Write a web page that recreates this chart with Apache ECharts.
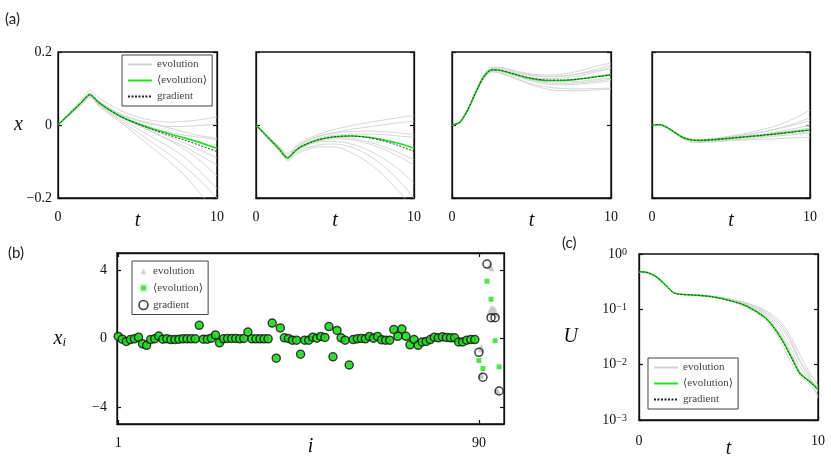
<!DOCTYPE html>
<html>
<head>
<meta charset="UTF-8">
<title>evolution vs gradient</title>
<script src="https://cdn.jsdelivr.net/npm/echarts@6.0.0/dist/echarts.min.js"></script>
<style>body{margin:0;background:#fff}</style>
</head>
<body>
<div id="fig" style="width:831px;height:460px;"></div>
<script>
// ---- (a) x(t) for four components ----
var tA = [0, 0.5, 1, 1.5, 2, 2.5, 3, 4, 5, 6, 7, 8, 9, 10];

var a1Mean = [0, 0.021, 0.042, 0.063, 0.083, 0.064, 0.048, 0.022, 0.004, -0.011, -0.024, -0.036, -0.049, -0.064];
var a1Grad = [0, 0.021, 0.042, 0.063, 0.083, 0.064, 0.048, 0.022, 0.003, -0.013, -0.028, -0.042, -0.057, -0.073];
var a1Evo = [
  [0, 0.023, 0.047, 0.071, 0.095, 0.077, 0.062, 0.038, 0.022, 0.012, 0.008, 0.010, 0.015, 0.022],
  [0, 0.022, 0.044, 0.066, 0.088, 0.069, 0.053, 0.028, 0.012, 0.002, -0.004, -0.004, -0.001, 0.003],
  [0, 0.021, 0.042, 0.063, 0.085, 0.066, 0.050, 0.025, 0.006, -0.009, -0.020, -0.028, -0.034, -0.040],
  [0, 0.020, 0.040, 0.060, 0.080, 0.061, 0.045, 0.020, 0.000, -0.020, -0.040, -0.060, -0.085, -0.110],
  [0, 0.020, 0.039, 0.058, 0.078, 0.058, 0.040, 0.010, -0.020, -0.050, -0.080, -0.115, -0.155, -0.200],
  [0, 0.020, 0.039, 0.059, 0.079, 0.060, 0.043, 0.015, -0.010, -0.035, -0.060, -0.090, -0.130, -0.175],
  [0, 0.019, 0.037, 0.056, 0.075, 0.055, 0.037, 0.005, -0.030, -0.065, -0.100, -0.140, -0.190, -0.240],
  [0, 0.021, 0.043, 0.064, 0.086, 0.067, 0.052, 0.029, 0.014, 0.003, -0.008, -0.020, -0.030, -0.036],
  [0, 0.020, 0.041, 0.061, 0.082, 0.063, 0.047, 0.022, 0.000, -0.020, -0.042, -0.068, -0.100, -0.140],
  [0, 0.021, 0.042, 0.062, 0.083, 0.064, 0.048, 0.022, 0.002, -0.015, -0.032, -0.050, -0.070, -0.090]
];

var a2Mean = [0, -0.0225, -0.045, -0.0675, -0.090, -0.070, -0.056, -0.040, -0.032, -0.030, -0.033, -0.040, -0.050, -0.063];
var a2Grad = [0, -0.0225, -0.045, -0.0675, -0.090, -0.070, -0.056, -0.040, -0.032, -0.030, -0.034, -0.043, -0.056, -0.072];
var a2Evo = [
  [0, -0.020, -0.040, -0.059, -0.078, -0.058, -0.043, -0.025, -0.012, -0.002, 0.006, 0.013, 0.020, 0.026],
  [0, -0.021, -0.041, -0.062, -0.082, -0.062, -0.048, -0.030, -0.020, -0.012, -0.006, 0.000, 0.006, 0.010],
  [0, -0.022, -0.044, -0.066, -0.088, -0.068, -0.054, -0.036, -0.028, -0.025, -0.025, -0.026, -0.030, -0.034],
  [0, -0.023, -0.046, -0.069, -0.092, -0.074, -0.060, -0.044, -0.038, -0.040, -0.050, -0.065, -0.085, -0.110],
  [0, -0.024, -0.048, -0.071, -0.095, -0.078, -0.066, -0.054, -0.052, -0.060, -0.080, -0.110, -0.150, -0.200],
  [0, -0.0245, -0.049, -0.073, -0.098, -0.082, -0.071, -0.060, -0.060, -0.075, -0.100, -0.135, -0.180, -0.230],
  [0, -0.022, -0.044, -0.066, -0.088, -0.069, -0.055, -0.039, -0.034, -0.036, -0.045, -0.058, -0.075, -0.095],
  [0, -0.023, -0.045, -0.068, -0.090, -0.072, -0.059, -0.046, -0.045, -0.052, -0.067, -0.090, -0.120, -0.160],
  [0, -0.021, -0.043, -0.064, -0.085, -0.065, -0.050, -0.031, -0.022, -0.018, -0.017, -0.018, -0.022, -0.026]
];

var a3Mean = [0, 0.008, 0.042, 0.090, 0.132, 0.151, 0.150, 0.138, 0.127, 0.122, 0.122, 0.126, 0.132, 0.138];
var a3Grad = [0, 0.008, 0.042, 0.090, 0.132, 0.151, 0.150, 0.139, 0.128, 0.123, 0.123, 0.126, 0.131, 0.137];
var a3Evo = [
  [0, 0.009, 0.045, 0.095, 0.138, 0.158, 0.158, 0.148, 0.140, 0.137, 0.140, 0.148, 0.160, 0.170],
  [0, 0.008, 0.043, 0.092, 0.135, 0.155, 0.154, 0.143, 0.135, 0.132, 0.134, 0.140, 0.148, 0.158],
  [0, 0.008, 0.042, 0.090, 0.132, 0.151, 0.149, 0.136, 0.125, 0.119, 0.118, 0.120, 0.124, 0.128],
  [0, 0.007, 0.040, 0.087, 0.128, 0.146, 0.143, 0.128, 0.113, 0.104, 0.100, 0.099, 0.100, 0.101],
  [0, 0.007, 0.039, 0.086, 0.127, 0.145, 0.142, 0.127, 0.110, 0.098, 0.094, 0.094, 0.096, 0.098],
  [0, 0.008, 0.041, 0.089, 0.131, 0.150, 0.149, 0.138, 0.130, 0.127, 0.129, 0.135, 0.145, 0.155],
  [0, 0.008, 0.042, 0.090, 0.133, 0.152, 0.150, 0.137, 0.123, 0.116, 0.114, 0.116, 0.120, 0.125],
  [0, 0.0085, 0.044, 0.093, 0.136, 0.156, 0.156, 0.146, 0.137, 0.133, 0.135, 0.141, 0.152, 0.165],
  [0, 0.0075, 0.041, 0.088, 0.130, 0.148, 0.146, 0.133, 0.120, 0.112, 0.110, 0.112, 0.116, 0.120]
];

var a4Mean = [0, 0.001, -0.008, -0.022, -0.035, -0.041, -0.042, -0.040, -0.036, -0.032, -0.028, -0.023, -0.018, -0.013];
var a4Grad = [0, 0.001, -0.008, -0.022, -0.035, -0.041, -0.042, -0.040, -0.036, -0.032, -0.028, -0.024, -0.019, -0.014];
var a4Evo = [
  [0, 0.001, -0.007, -0.020, -0.033, -0.039, -0.040, -0.036, -0.030, -0.022, -0.012, 0.000, 0.018, 0.040],
  [0, 0.001, -0.007, -0.021, -0.034, -0.040, -0.041, -0.038, -0.033, -0.027, -0.019, -0.009, 0.004, 0.020],
  [0, 0.001, -0.008, -0.022, -0.035, -0.041, -0.042, -0.039, -0.035, -0.030, -0.025, -0.018, -0.010, 0.000],
  [0, 0.000, -0.009, -0.024, -0.038, -0.045, -0.046, -0.044, -0.041, -0.038, -0.034, -0.030, -0.026, -0.022],
  [0, 0.000, -0.009, -0.025, -0.040, -0.047, -0.048, -0.046, -0.043, -0.041, -0.039, -0.037, -0.035, -0.033],
  [0, 0.001, -0.008, -0.023, -0.036, -0.042, -0.043, -0.041, -0.037, -0.033, -0.029, -0.024, -0.019, -0.015],
  [0, 0.001, -0.008, -0.021, -0.034, -0.040, -0.041, -0.039, -0.035, -0.031, -0.026, -0.021, -0.015, -0.008],
  [0, 0.000, -0.009, -0.023, -0.037, -0.043, -0.044, -0.042, -0.039, -0.035, -0.031, -0.027, -0.023, -0.019],
  [0, 0.001, -0.007, -0.020, -0.033, -0.039, -0.040, -0.037, -0.032, -0.026, -0.019, -0.010, 0.000, 0.012]
];

// ---- (b) final x_i, i = 1..95 ----
var bRegular = [
  0.12, -0.04, -0.17, -0.06, -0.02, 0.08, -0.31, -0.40, -0.06, -0.02,
  0.14, -0.04, -0.02, -0.06, -0.06, -0.04, -0.02, -0.02, -0.02, -0.02,
  0.77, -0.04, -0.04, 0.02, 0.21, -0.25, -0.02, 0.00, 0.00, 0.00,
  -0.02, 0.00, 0.38, -0.02, -0.02, -0.02, -0.02, -0.02, 0.90, -1.15,
  0.62, 0.04, 0.00, -0.10, -0.10, -0.92, -0.10, -0.10, 0.08, 0.02,
  0.12, 0.06, 0.70, -1.07, 0.47, 0.04, -0.10, -1.55, -0.06, -0.02,
  0.00, -0.02, 0.12, 0.02, 0.12, -0.08, -0.10, -0.10, 0.52, 0.13,
  0.56, 0.13, -0.37, -0.06, -0.40, -0.20, -0.17, -0.06, 0.08, 0.04,
  0.10, 0.06, 0.04, 0.04, -0.20, -0.20, -0.10, -0.06, -0.06
];
var bGradTail = [-0.81, -2.26, 4.35, 1.22, 1.22, -3.07];
var bMeanTail = [-1.29, -1.76, 3.35, 2.30, -0.13, -1.66];
// single evolution runs, as they sit around the last six points
var bEvoPos = [90.6, 90.7, 90.5, 90.4, 90.5, 90.6, 92.7, 92.9, 93.1, 92.6, 92.9, 93.2, 93.5, 93.8, 94.1, 94.4, 94.3, 94.5, 94.6];
var bEvoValue = [-0.5, -0.65, -0.6, -2.15, -2.2, -2.1, 4.3, 4.2, 4.1, 1.5, 1.7, 1.8, 1.6, 1.75, 1.5, 1.4, -3.05, -3.0, -3.1];
var bTicksX = [1, 90];
var bTicksY = [-4, 0, 4];

// ---- (c) U(t) ----
var tC = [0, 0.5, 1, 1.5, 2, 3, 4, 5, 6, 7, 7.5, 8, 8.5, 9, 9.5, 10];
var cMean = [0.48, 0.46, 0.38, 0.27, 0.195, 0.182, 0.17, 0.146, 0.115, 0.073, 0.049, 0.028, 0.014, 0.0069, 0.0051, 0.0036];
var cGrad = [0.48, 0.46, 0.38, 0.27, 0.195, 0.182, 0.17, 0.146, 0.115, 0.072, 0.048, 0.027, 0.0135, 0.0068, 0.005, 0.0036];
var cEvo = [
  [0.48, 0.46, 0.38, 0.27, 0.195, 0.183, 0.173, 0.153, 0.126, 0.088, 0.066, 0.044, 0.024, 0.011, 0.006, 0.0038],
  [0.48, 0.46, 0.38, 0.27, 0.195, 0.183, 0.174, 0.156, 0.131, 0.098, 0.078, 0.055, 0.031, 0.015, 0.0075, 0.0042],
  [0.48, 0.46, 0.38, 0.27, 0.195, 0.182, 0.170, 0.148, 0.118, 0.078, 0.054, 0.032, 0.016, 0.0075, 0.005, 0.0034],
  [0.48, 0.46, 0.38, 0.27, 0.195, 0.182, 0.169, 0.144, 0.110, 0.066, 0.043, 0.023, 0.011, 0.0062, 0.0045, 0.0028],
  [0.48, 0.46, 0.38, 0.27, 0.195, 0.183, 0.172, 0.150, 0.122, 0.083, 0.060, 0.037, 0.019, 0.009, 0.0055, 0.0033],
  [0.48, 0.46, 0.38, 0.27, 0.195, 0.182, 0.171, 0.148, 0.116, 0.075, 0.051, 0.029, 0.015, 0.0072, 0.0052, 0.004],
  [0.48, 0.46, 0.38, 0.27, 0.195, 0.183, 0.173, 0.154, 0.128, 0.093, 0.072, 0.049, 0.027, 0.012, 0.0065, 0.0025]
];

var INK = '#111';
var GRAY = '#d0d0d0';
var GREEN = '#22e022';
var SERIF = '"Liberation Serif","DejaVu Serif",serif';

function minus(v) { return String(v).replace('-', '\u2212'); }
function pairs(ts, vs) { return vs.map(function (v, k) { return [ts[k], v]; }); }

var axisLine = { onZero: false, lineStyle: { color: INK, width: 1.3 } };
var tick = { inside: true, length: 4, lineStyle: { color: INK, width: 1.2 } };
var tickFont = { fontFamily: SERIF, fontSize: 14, color: INK };
var nameFont = { fontFamily: SERIF, fontStyle: 'italic', fontSize: 20, color: INK };
var legendBase = {
  orient: 'vertical', selectedMode: false, backgroundColor: '#fff',
  borderColor: '#444', borderWidth: 1, borderRadius: 0,
  padding: [4, 5, 4, 5], itemGap: 5, itemWidth: 24, itemHeight: 8,
  itemStyle: { opacity: 0 },   // line icons only, no marker on them
  textStyle: { fontFamily: SERIF, fontSize: 11, color: '#444' }
};
function box(left, top, width, height) {
  return { left: left, top: top, width: width, height: height, show: true,
    borderColor: INK, borderWidth: 1.3, outerBoundsMode: 'none', containLabel: false };
}

var grids = [], xAxes = [], yAxes = [], series = [];
var aLeft = [58, 256, 452, 652], aWidth = [159, 158, 159, 158];
var aMeans = [a1Mean, a2Mean, a3Mean, a4Mean];
var aGrads = [a1Grad, a2Grad, a3Grad, a4Grad];
var aEvos = [a1Evo, a2Evo, a3Evo, a4Evo];

function lineSeries(name, xi, yi, data, style, z) {
  return { type: 'line', name: name, xAxisIndex: xi, yAxisIndex: yi, data: data,
    symbol: 'none', smooth: 0.3, lineStyle: style, itemStyle: { color: style.color },
    z: z, silent: true, animation: false };
}

// panel (a)
for (var i = 0; i < 4; i++) {
  grids.push(box(aLeft[i], 52, aWidth[i], 146));
  xAxes.push({ type: 'value', gridIndex: i, min: 0, max: 10, interval: 10,
    name: 't', nameLocation: 'middle', nameGap: 13, nameMoveOverlap: false, nameTextStyle: nameFont,
    axisLine: axisLine, axisTick: tick, splitLine: { show: false },
    axisLabel: Object.assign({ margin: 12 }, tickFont) });
  yAxes.push({ type: 'value', gridIndex: i, min: -0.2, max: 0.2, interval: 0.2,
    name: i === 0 ? 'x' : '', nameLocation: 'middle', nameRotate: 0, nameGap: 35, nameMoveOverlap: false, nameTextStyle: nameFont,
    axisLine: axisLine, axisTick: tick, splitLine: { show: false },
    axisLabel: Object.assign({ show: i === 0, margin: 6, formatter: minus }, tickFont) });
  yAxes.push({ type: 'value', gridIndex: i, position: 'right', min: -0.2, max: 0.2, interval: 0.2,
    axisLine: axisLine, axisTick: tick, splitLine: { show: false }, axisLabel: { show: false } });
  aEvos[i].forEach(function (run) {
    series.push(lineSeries('evolution', i, 2 * i, pairs(tA, run), { color: GRAY, width: 0.9 }, 2));
  });
  series.push(lineSeries('\u27e8evolution\u27e9', i, 2 * i, pairs(tA, aMeans[i]), { color: GREEN, width: 1.6 }, 3));
  series.push(lineSeries('gradient', i, 2 * i, pairs(tA, aGrads[i]), { color: '#222', width: 0.9, type: [2, 1.5] }, 4));
}

// panel (b)
var bIdx = bRegular.concat(bGradTail).map(function (v, k) { return k + 1; });
grids.push(box(117, 253, 387, 171));
xAxes.push({ type: 'value', gridIndex: 4, min: 0.7, max: 96.2,
  name: 'i', nameLocation: 'middle', nameGap: 13, nameMoveOverlap: false, nameTextStyle: nameFont,
  axisLine: axisLine, axisTick: Object.assign({ customValues: bTicksX }, tick), splitLine: { show: false },
  axisLabel: Object.assign({ customValues: bTicksX, margin: 12 }, tickFont) });
xAxes.push({ type: 'value', gridIndex: 4, position: 'top', min: 0.7, max: 96.2,
  axisLine: axisLine, axisTick: Object.assign({ customValues: bTicksX }, tick), splitLine: { show: false },
  axisLabel: { show: false } });
yAxes.push({ type: 'value', gridIndex: 4, min: -5, max: 5,
  name: '{v|x}{s|i}', nameLocation: 'middle', nameRotate: 0, nameGap: 51, nameMoveOverlap: false,
  nameTextStyle: { rich: { v: nameFont, s: { fontFamily: SERIF, fontStyle: 'italic', fontSize: 13, color: INK, verticalAlign: 'bottom', padding: [8, 0, 0, 0] } } },
  axisLine: axisLine, axisTick: Object.assign({ customValues: bTicksY }, tick), splitLine: { show: false },
  axisLabel: Object.assign({ customValues: bTicksY, margin: 10, formatter: minus }, tickFont) });
yAxes.push({ type: 'value', gridIndex: 4, position: 'right', min: -5, max: 5,
  axisLine: axisLine, axisTick: Object.assign({ customValues: bTicksY }, tick), splitLine: { show: false },
  axisLabel: { show: false } });

series.push({ type: 'scatter', name: 'b:evolution', xAxisIndex: 4, yAxisIndex: 8, z: 2,
  data: pairs(bEvoPos, bEvoValue),
  symbol: 'triangle', symbolSize: 6, itemStyle: { color: '#c4c4c4' }, silent: true, animation: false });
series.push({ type: 'scatter', name: 'b:\u27e8evolution\u27e9', xAxisIndex: 4, yAxisIndex: 8, z: 3,
  data: pairs(bIdx, bRegular.concat(bMeanTail)),
  symbol: 'rect', symbolSize: 5, itemStyle: { color: GREEN }, silent: true, animation: false });
series.push({ type: 'scatter', name: 'b:gradient', xAxisIndex: 4, yAxisIndex: 8, z: 4,
  data: pairs(bIdx, bRegular.concat(bGradTail)),
  symbol: 'circle', symbolSize: 8,
  itemStyle: {
    color: function (p) { return p.dataIndex < bRegular.length ? GREEN : 'rgba(255,255,255,0)'; },
    borderColor: INK, borderWidth: 1.5
  }, silent: true, animation: false });

// panel (c)
function decade(v) {
  var e = Math.round(Math.log(v) / Math.LN10);
  return '{b|10}{s|' + minus(e) + '}';
}
var decadeRich = { b: { fontFamily: SERIF, fontSize: 14, color: INK }, s: { fontFamily: SERIF, fontSize: 10, color: INK, verticalAlign: 'top' } };
grids.push(box(639, 254, 179, 166));
xAxes.push({ type: 'value', gridIndex: 5, min: 0, max: 10, interval: 10,
  name: 't', nameLocation: 'middle', nameGap: 19, nameMoveOverlap: false, nameTextStyle: nameFont,
  axisLine: axisLine, axisTick: tick, splitLine: { show: false },
  axisLabel: Object.assign({ margin: 14 }, tickFont) });
yAxes.push({ type: 'log', logBase: 10, gridIndex: 5, min: 0.001, max: 1,
  name: 'U', nameLocation: 'middle', nameRotate: 0, nameGap: 61, nameMoveOverlap: false, nameTextStyle: nameFont,
  axisLine: axisLine, axisTick: tick, splitLine: { show: false }, minorTick: { show: false },
  axisLabel: { margin: 12, formatter: decade, rich: decadeRich } });
yAxes.push({ type: 'log', logBase: 10, gridIndex: 5, position: 'right', min: 0.001, max: 1,
  axisLine: axisLine, axisTick: tick, splitLine: { show: false }, axisLabel: { show: false } });
cEvo.forEach(function (run) {
  series.push(lineSeries('evolution', 6, 10, pairs(tC, run), { color: GRAY, width: 0.9 }, 2));
});
series.push(lineSeries('\u27e8evolution\u27e9', 6, 10, pairs(tC, cMean), { color: GREEN, width: 1.6 }, 3));
series.push(lineSeries('gradient', 6, 10, pairs(tC, cGrad), { color: '#222', width: 0.9, type: [2, 1.5] }, 4));

var chart = echarts.init(document.getElementById('fig'), null, { renderer: 'canvas' });
chart.setOption({
  backgroundColor: '#fff',
  animation: false,
  grid: grids,
  xAxis: xAxes,
  yAxis: yAxes,
  legend: [
    Object.assign({}, legendBase, { left: 122, top: 55, data: ['evolution', '\u27e8evolution\u27e9', 'gradient'] }),
    Object.assign({}, legendBase, { left: 132, top: 261, itemWidth: 9, itemHeight: 9, itemGap: 5,
      itemStyle: {},
      data: [
        { name: 'b:evolution', itemStyle: { color: '#c4c4c4', borderColor: '#fff', borderWidth: 2.5 } },
        { name: 'b:\u27e8evolution\u27e9', itemStyle: { color: GREEN, borderColor: '#fff', borderWidth: 4 } },
        { name: 'b:gradient', itemStyle: { color: '#fff', borderColor: INK, borderWidth: 1.6 } }],
      formatter: function (n) { return n.replace('b:', ''); } }),
    Object.assign({}, legendBase, { left: 648, top: 358, data: ['evolution', '\u27e8evolution\u27e9', 'gradient'] })
  ],
  graphic: [
    { type: 'text', left: 5, top: 12, style: { text: '(a)', fontFamily: 'Lato', fontSize: 15, fill: '#222' } },
    { type: 'text', left: 8, top: 246, style: { text: '(b)', fontFamily: 'Lato', fontSize: 15, fill: '#222' } },
    { type: 'text', left: 562, top: 236, style: { text: '(c)', fontFamily: 'Lato', fontSize: 15, fill: '#222' } }
  ],
  series: series
});
</script>
</body>
</html>
